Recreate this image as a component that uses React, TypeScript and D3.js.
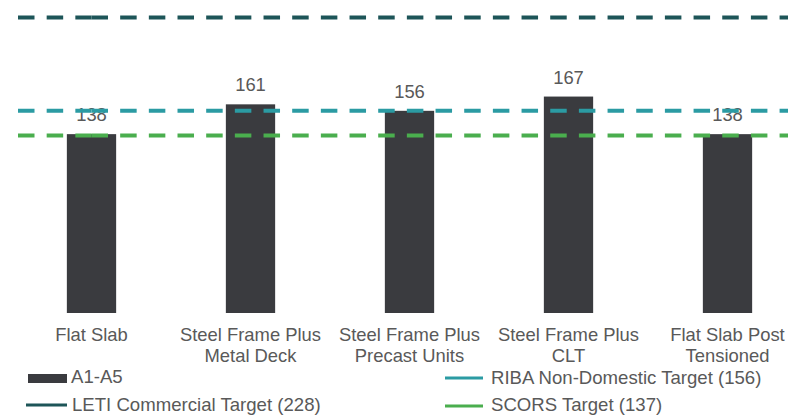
import React from "react";
import * as d3 from "d3";

const categories = [
  "Flat Slab",
  "Steel Frame Plus\nMetal Deck",
  "Steel Frame Plus\nPrecast Units",
  "Steel Frame Plus\nCLT",
  "Flat Slab Post\nTensioned",
];
const a1a5 = [138, 161, 156, 167, 138];

const targetNames = [
  "LETI Commercial Target (228)",
  "RIBA Non-Domestic Target (156)",
  "SCORS Target (137)",
];
const targetValues = [228, 156, 137];
const targetColors = ["#1D5558", "#2B9BA3", "#4AAE4E"];

const W = 788;
const H = 418;
const BAR_COLOR = "#3A3B3F";
const TEXT = "#595959";
const FONT = "'Liberation Sans', Arial, sans-serif";

export default function App() {
  const x = d3.scaleBand<string>().domain(categories).range([12, 807]).paddingInner(0.69).paddingOuter(0.345);
  const baseline = 313;
  const y = d3.scaleLinear().domain([0, 228]).range([baseline, 17.5]);

  const lineStart = 18;
  const firstCenter = (x(categories[0]) ?? 0) + x.bandwidth() / 2;

  return (
    <div style={{ position: "absolute", left: 0, top: 0 }}>
      <svg width={W} height={H} style={{ display: "block", fontFamily: FONT }}>
        <rect width={W} height={H} fill="#fff" />
        {categories.map((c, i) => (
          <rect
            key={c}
            x={x(c)}
            y={y(a1a5[i])}
            width={x.bandwidth()}
            height={baseline - y(a1a5[i])}
            fill={BAR_COLOR}
          />
        ))}
        {categories.map((c, i) => (
          <text
            key={"v" + c}
            x={(x(c) ?? 0) + x.bandwidth() / 2}
            y={y(a1a5[i]) - 13}
            textAnchor="middle"
            fontSize={18.4}
            fill={TEXT}
          >
            {a1a5[i]}
          </text>
        ))}
        {targetValues.map((v, i) => (
          <g key={"t" + i}>
            <line
              x1={lineStart}
              x2={firstCenter}
              y1={y(v)}
              y2={y(v)}
              stroke={targetColors[i]}
              strokeWidth={4}
              strokeDasharray="16.5 12.17"
            />
            <line
              x1={firstCenter}
              x2={W}
              y1={y(v)}
              y2={y(v)}
              stroke={targetColors[i]}
              strokeWidth={4}
              strokeDasharray="16.5 12.17"
            />
          </g>
        ))}
        {categories.map((c) => (
          <text
            key={"c" + c}
            x={(x(c) ?? 0) + x.bandwidth() / 2}
            y={341}
            textAnchor="middle"
            fontSize={18.4}
            fill={TEXT}
          >
            {c.split("\n").map((ln, j) => (
              <tspan key={j} x={(x(c) ?? 0) + x.bandwidth() / 2} dy={j === 0 ? 0 : 21}>
                {ln}
              </tspan>
            ))}
          </text>
        ))}
        {/* Legend */}
        <g fontSize={18.6} fill={TEXT}>
          <rect x={28} y={374} width={39} height={9} fill={BAR_COLOR} />
          <text x={71} y={383}>A1-A5</text>
          <line x1={26} x2={67} y1={405} y2={405} stroke={targetColors[0]} strokeWidth={3} />
          <text x={72} y={411}>{targetNames[0]}</text>
          <line x1={445} x2={483} y1={378} y2={378} stroke={targetColors[1]} strokeWidth={3} />
          <text x={491} y={384}>{targetNames[1]}</text>
          <line x1={445} x2={483} y1={406} y2={406} stroke={targetColors[2]} strokeWidth={3} />
          <text x={491} y={411}>{targetNames[2]}</text>
        </g>
      </svg>
    </div>
  );
}
